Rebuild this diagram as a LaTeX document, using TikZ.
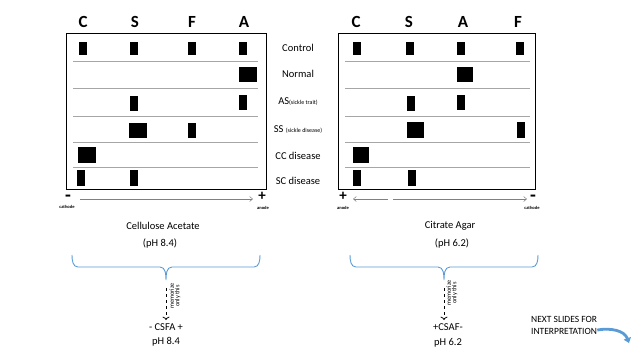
\documentclass[tikz,border=0pt]{standalone}
\usepackage{fontspec}
\setmainfont{Carlito}
\usetikzlibrary{arrows.meta}
\definecolor{slideblue}{HTML}{5B9BD5}
\definecolor{lanegray}{HTML}{A6A6A6}

\begin{document}
\begin{tikzpicture}[x=1pt,y=-1pt,
  band/.style={fill=black},
  lane/.style={lanegray,line width=0.8pt},
  head/.style={font=\fontsize{17}{19}\selectfont\bfseries},
  rowlab/.style={font=\fontsize{10.5}{12}\selectfont},
  pole/.style={font=\fontsize{15}{15}\selectfont\bfseries,inner sep=0pt},
  tiny/.style={font=\fontsize{4.5}{5}\selectfont\bfseries,inner sep=0pt},
  memo/.style={font=\fontsize{6.3}{5.5}\selectfont,inner sep=0pt,rotate=90,align=center},
  media/.style={font=\fontsize{10.5}{12}\selectfont},
  brace/.style={slideblue,line width=0.9pt},
  run/.style={gray,line width=0.5pt,-{Straight Barb[length=3pt,width=5pt]}}]
\useasboundingbox (0,0) rectangle (640,360);

% cellulose acetate strip
\draw[line width=0.8pt] (66,33) rectangle (266,189);
\foreach \y in {61,88,116,142,167}
  \draw[lane] (73,\y) -- (258,\y);
\node[head] (hc1) at (83,22) {C};
\node[head] (hs1) at (135,22) {S};
\node[head] (hf1) at (192,22) {F};
\node[head] (ha1) at (244,22) {A};
\fill[band] (79,42) rectangle (87,55);
\fill[band] (130,42) rectangle (138,55);
\fill[band] (188,42) rectangle (196,55);
\fill[band] (239,42) rectangle (247,55);
\fill[band] (239,67) rectangle (257,82);
\fill[band] (130,96) rectangle (138,111);
\fill[band] (239,95) rectangle (247,110);
\fill[band] (129,123) rectangle (147,138);
\fill[band] (188,123) rectangle (196,138);
\fill[band] (78,147) rectangle (96,163);
\fill[band] (77,170) rectangle (85,186);
\fill[band] (130,170) rectangle (138,186);

% citrate agar strip
\draw[line width=0.8pt] (338,33) rectangle (535,189);
\foreach \y in {61,88,116,142,167}
  \draw[lane] (345,\y) -- (530,\y);
\node[head] (hc2) at (356,22) {C};
\node[head] (hs2) at (409,22) {S};
\node[head] (ha2) at (463,22) {A};
\node[head] (hf2) at (518,22) {F};
\fill[band] (353,42) rectangle (361,55);
\fill[band] (406,42) rectangle (414,55);
\fill[band] (457,42) rectangle (465,55);
\fill[band] (516,42) rectangle (524,55);
\fill[band] (457,67) rectangle (473,82);
\fill[band] (407,96) rectangle (415,111);
\fill[band] (457,95) rectangle (465,110);
\fill[band] (407,122) rectangle (424,138);
\fill[band] (517,122) rectangle (525,138);
\fill[band] (353,147) rectangle (369,163);
\fill[band] (353,170) rectangle (361,186);
\fill[band] (408,170) rectangle (416,186);

% row names
\node[rowlab] (control) at (298,48) {Control};
\node[rowlab] (normal) at (298,74) {Normal};
\node[rowlab] (trait) at (298,102) {AS{\fontsize{6}{7}\selectfont(sickle trait)}};
\node[rowlab] (disease) at (298,130) {SS {\fontsize{6}{7}\selectfont(sickle disease)}};
\node[rowlab] (ccdis) at (298,156) {CC disease};
\node[rowlab] (scdis) at (298,181) {SC disease};

% poles
\node[pole,font=\fontsize{19}{19}\selectfont\bfseries] (minus1) at (68,198) {-};
\node[tiny] (cath1) at (67,207) {cathode};
\node[pole] (plus1) at (262,196) {+};
\node[tiny] (an1) at (263,207.5) {anode};
\coordinate (run1) at (80,199);
\coordinate (end1) at (253,199);
\draw[run] (run1) -- (end1);

\node[pole] (plus2) at (343,196) {+};
\node[tiny] (an2) at (343,207.5) {anode};
\node[pole,font=\fontsize{19}{19}\selectfont\bfseries] (minus2) at (533,198) {-};
\node[tiny] (cath2) at (532,207.5) {cathode};
\coordinate (run2) at (388,199);
\coordinate (end2) at (353,199);
\coordinate (run3) at (393,199);
\coordinate (end3) at (527,199);
\draw[run] (run2) -- (end2);
\draw[run] (run3) -- (end3);

% media
\node[media] (ca) at (163,226) {Cellulose Acetate};
\node[media] (caph) at (160,243) {(pH 8.4)};
\draw[brace] (72,255) to[out=-90,in=180] (78,267) -- (160,267)
  to[out=0,in=90] (166,280) to[out=90,in=180] (172,267) -- (254,267)
  to[out=0,in=-90] (260,255);
\coordinate (tip1) at (166,288);
\node[media] (csfa) at (166,327) {- CSFA +};
\node[media] (ph1) at (166,342) {pH 8.4};
\draw[dashed,thick,->] (tip1) -- (csfa);
\node[memo] (memo1) at (175,296) {memorize\\only this};

\node[media] (cag) at (450,226) {Citrate Agar};
\node[media] (cagph) at (452,243) {(pH 6.2)};
\draw[brace] (350,255) to[out=-90,in=180] (356,267) -- (438,267)
  to[out=0,in=90] (444,280) to[out=90,in=180] (450,267) -- (532,267)
  to[out=0,in=-90] (538,255);
\coordinate (tip2) at (444,288);
\node[media] (csaf) at (448,327) {+CSAF-};
\node[media] (ph2) at (448,343) {pH 6.2};
\draw[dashed,thick,->] (tip2) -- (tip2 |- csaf.north);
\node[memo] (memo2) at (452,293) {memorize\\only this};

% next slides
\node[font=\fontsize{9.5}{12}\selectfont,align=left,anchor=west,inner sep=0pt] (next) at (531,325) {NEXT SLIDES FOR\\INTERPRETATION};
\coordinate (hook) at (629,343);
\draw[slideblue,line width=2.8pt,-{Triangle[length=5pt,width=7.5pt]}] (next.east |- 0,330) to[out=10,in=110] (hook);
\end{tikzpicture}
\end{document}
